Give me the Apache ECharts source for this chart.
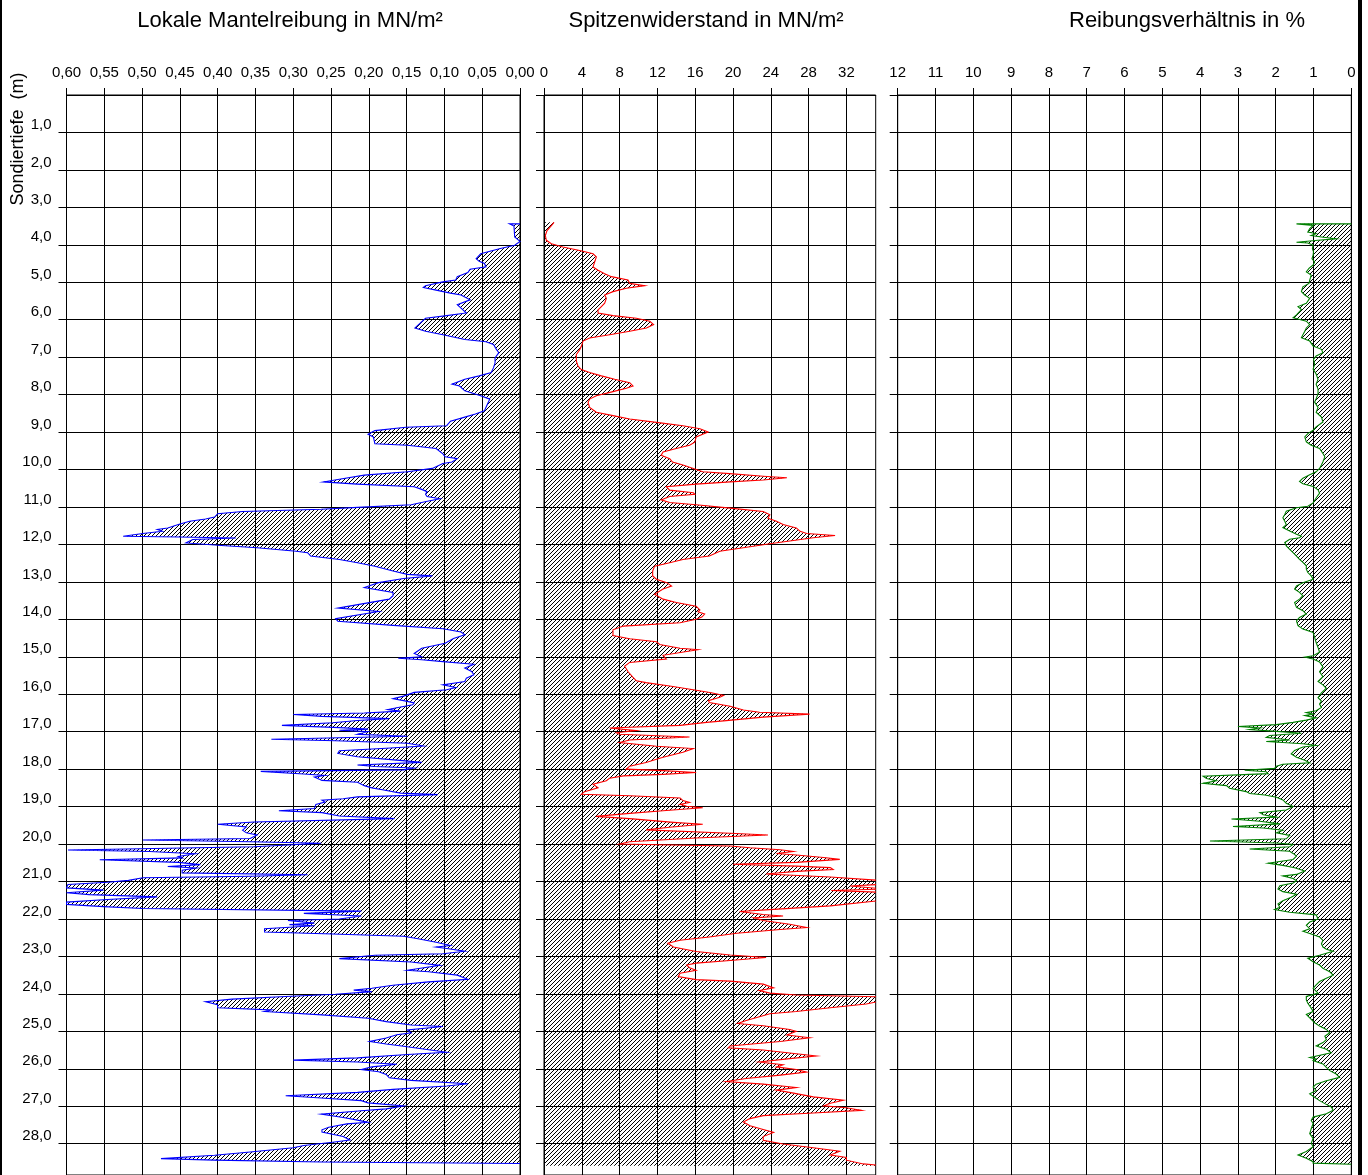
<!DOCTYPE html>
<html>
<head>
<meta charset="utf-8">
<script src="https://cdn.jsdelivr.net/npm/echarts@6/dist/echarts.min.js"></script>
<style>
html, body { margin: 0; padding: 0; background: #fff; }
#chart { width: 1368px; height: 1175px; }
</style>
</head>
<body>
<div id="chart"></div>
<script>
// [depth m, value] pairs
var fsProfile = [[3.44,0],[3.44,0.014],[3.50,0.008],[3.79,0.007],[3.91,0.000],[4.01,0.007],[4.10,0.026],[4.24,0.052],[4.37,0.058],[4.44,0.054],[4.50,0.047],[4.59,0.045],[4.65,0.066],[4.74,0.069],[4.85,0.083],[4.94,0.085],[4.99,0.102],[5.09,0.125],[5.14,0.128],[5.21,0.111],[5.29,0.092],[5.34,0.078],[5.47,0.066],[5.60,0.083],[5.69,0.078],[5.82,0.071],[5.89,0.097],[5.96,0.125],[6.09,0.132],[6.22,0.139],[6.31,0.125],[6.40,0.102],[6.53,0.073],[6.59,0.045],[6.66,0.035],[6.80,0.031],[6.88,0.028],[7.02,0.033],[7.15,0.033],[7.28,0.035],[7.41,0.038],[7.50,0.054],[7.59,0.073],[7.72,0.090],[7.77,0.080],[7.90,0.073],[8.03,0.052],[8.12,0.040],[8.25,0.043],[8.43,0.047],[8.52,0.059],[8.60,0.073],[8.71,0.092],[8.83,0.097],[8.87,0.151],[8.96,0.192],[9.06,0.201],[9.13,0.194],[9.31,0.192],[9.35,0.149],[9.44,0.111],[9.58,0.102],[9.66,0.099],[9.71,0.083],[9.80,0.090],[9.84,0.102],[9.97,0.116],[10.06,0.149],[10.15,0.206],[10.26,0.239],[10.33,0.260],[10.39,0.215],[10.46,0.140],[10.53,0.130],[10.59,0.123],[10.66,0.125],[10.72,0.123],[10.78,0.106],[10.84,0.121],[10.94,0.144],[11.01,0.215],[11.06,0.263],[11.12,0.367],[11.18,0.400],[11.27,0.404],[11.32,0.416],[11.38,0.437],[11.47,0.452],[11.56,0.466],[11.60,0.480],[11.65,0.473],[11.71,0.499],[11.78,0.525],[11.80,0.452],[11.83,0.376],[11.87,0.433],[11.96,0.442],[12.03,0.395],[12.09,0.348],[12.18,0.296],[12.22,0.281],[12.31,0.277],[12.40,0.239],[12.49,0.215],[12.58,0.192],[12.71,0.168],[12.80,0.149],[12.84,0.116],[12.91,0.154],[13.02,0.187],[13.15,0.206],[13.28,0.168],[13.37,0.168],[13.46,0.173],[13.70,0.241],[13.79,0.187],[13.98,0.244],[14.05,0.241],[14.16,0.168],[14.25,0.102],[14.34,0.078],[14.41,0.073],[14.51,0.088],[14.64,0.099],[14.77,0.130],[14.91,0.140],[15.00,0.130],[15.04,0.161],[15.08,0.130],[15.13,0.102],[15.20,0.061],[15.30,0.073],[15.39,0.064],[15.48,0.061],[15.57,0.071],[15.66,0.073],[15.75,0.102],[15.82,0.085],[15.88,0.097],[15.95,0.140],[16.05,0.154],[16.12,0.168],[16.17,0.154],[16.23,0.140],[16.28,0.142],[16.36,0.163],[16.41,0.175],[16.45,0.158],[16.50,0.206],[16.54,0.300],[16.59,0.262],[16.65,0.173],[16.70,0.215],[16.76,0.248],[16.83,0.315],[16.89,0.239],[16.93,0.201],[16.96,0.239],[17.00,0.201],[17.07,0.215],[17.12,0.149],[17.20,0.329],[17.24,0.244],[17.31,0.149],[17.38,0.128],[17.44,0.177],[17.51,0.239],[17.58,0.241],[17.67,0.215],[17.76,0.163],[17.82,0.130],[17.89,0.215],[17.93,0.192],[17.97,0.140],[18.02,0.154],[18.06,0.343],[18.13,0.286],[18.17,0.258],[18.21,0.272],[18.30,0.262],[18.35,0.215],[18.44,0.206],[18.50,0.196],[18.55,0.182],[18.64,0.158],[18.68,0.109],[18.74,0.215],[18.79,0.234],[18.83,0.262],[18.88,0.258],[18.94,0.270],[19.05,0.272],[19.11,0.319],[19.16,0.262],[19.25,0.239],[19.32,0.166],[19.41,0.352],[19.47,0.400],[19.54,0.362],[19.63,0.367],[19.70,0.362],[19.76,0.348],[19.85,0.357],[19.89,0.499],[19.94,0.357],[19.98,0.263],[20.07,0.352],[20.16,0.598],[20.20,0.490],[20.26,0.430],[20.33,0.452],[20.37,0.447],[20.42,0.556],[20.49,0.452],[20.55,0.423],[20.60,0.466],[20.64,0.428],[20.70,0.447],[20.77,0.447],[20.82,0.281],[20.86,0.357],[20.90,0.499],[20.97,0.518],[21.02,0.546],[21.08,0.598],[21.17,0.600],[21.23,0.551],[21.30,0.600],[21.35,0.570],[21.41,0.480],[21.48,0.546],[21.55,0.600],[21.61,0.600],[21.67,0.551],[21.72,0.499],[21.79,0.210],[21.85,0.286],[21.92,0.210],[22.00,0.239],[22.04,0.307],[22.11,0.272],[22.15,0.305],[22.18,0.272],[22.26,0.338],[22.35,0.338],[22.40,0.248],[22.46,0.154],[22.53,0.135],[22.62,0.111],[22.71,0.092],[22.75,0.111],[22.79,0.097],[22.86,0.073],[22.93,0.102],[22.97,0.192],[23.06,0.239],[23.15,0.144],[23.24,0.106],[23.37,0.149],[23.41,0.121],[23.50,0.083],[23.61,0.069],[23.68,0.121],[23.77,0.168],[23.85,0.196],[23.90,0.220],[23.94,0.196],[24.01,0.244],[24.07,0.310],[24.14,0.381],[24.21,0.416],[24.29,0.400],[24.37,0.400],[24.43,0.329],[24.47,0.338],[24.56,0.262],[24.65,0.201],[24.74,0.177],[24.83,0.144],[24.87,0.102],[24.96,0.149],[25.04,0.144],[25.09,0.163],[25.18,0.177],[25.27,0.199],[25.34,0.177],[25.40,0.154],[25.49,0.121],[25.56,0.097],[25.62,0.149],[25.71,0.215],[25.77,0.300],[25.82,0.215],[25.88,0.163],[25.95,0.196],[26.02,0.210],[26.08,0.187],[26.15,0.177],[26.24,0.173],[26.31,0.144],[26.40,0.069],[26.46,0.097],[26.55,0.168],[26.63,0.215],[26.72,0.310],[26.78,0.263],[26.85,0.210],[26.91,0.201],[26.99,0.154],[27.07,0.177],[27.12,0.210],[27.21,0.263],[27.30,0.234],[27.37,0.215],[27.43,0.201],[27.47,0.229],[27.56,0.253],[27.63,0.262],[27.69,0.262],[27.81,0.234],[27.90,0.225],[27.96,0.248],[28.05,0.286],[28.11,0.300],[28.22,0.357],[28.31,0.404],[28.40,0.475],[28.44,0.404],[28.49,0.263],[28.53,0.000]];

var qcProfile = [[3.40,1.06],[3.49,0.78],[3.62,0.32],[3.75,0.14],[3.88,0.25],[3.97,0.78],[4.06,2.0],[4.15,3.78],[4.24,5.19],[4.32,5.54],[4.46,5.36],[4.59,5.19],[4.68,5.72],[4.77,6.42],[4.85,7.13],[4.94,8.89],[5.03,9.07],[5.09,10.66],[5.16,8.71],[5.25,7.30],[5.34,6.42],[5.43,6.60],[5.56,6.42],[5.65,6.07],[5.74,5.72],[5.82,5.72],[5.89,7.30],[5.96,9.78],[6.04,11.19],[6.13,11.60],[6.22,10.84],[6.31,9.07],[6.40,6.95],[6.49,4.83],[6.57,4.13],[6.71,3.95],[6.80,3.78],[6.93,3.42],[7.10,3.42],[7.24,3.60],[7.33,3.95],[7.41,4.83],[7.50,6.07],[7.59,7.48],[7.68,9.07],[7.77,9.42],[7.83,8.71],[7.92,7.30],[8.03,5.54],[8.12,4.83],[8.21,4.66],[8.34,4.83],[8.47,5.54],[8.56,7.30],[8.65,9.07],[8.74,11.9],[8.83,14.7],[8.91,16.5],[9.00,17.37],[9.06,16.8],[9.13,16.1],[9.27,15.96],[9.35,15.4],[9.44,14.0],[9.53,12.6],[9.62,12.4],[9.71,13.3],[9.80,13.6],[9.88,14.7],[9.97,15.8],[10.06,16.8],[10.11,19.66],[10.18,23.2],[10.22,25.7],[10.28,23.2],[10.33,19.7],[10.39,16.1],[10.46,12.95],[10.55,13.3],[10.62,15.8],[10.66,15.96],[10.72,13.3],[10.81,12.4],[10.88,13.3],[10.94,16.1],[11.03,19.7],[11.12,23.2],[11.21,23.9],[11.30,23.7],[11.38,24.6],[11.47,25.3],[11.56,26.7],[11.65,27.1],[11.71,27.8],[11.76,30.8],[11.82,28.5],[11.91,26.0],[11.98,23.9],[12.09,21.1],[12.18,18.6],[12.31,17.5],[12.40,14.7],[12.49,13.3],[12.58,11.7],[12.71,11.5],[12.84,11.5],[12.93,11.9],[13.02,13.0],[13.11,13.5],[13.19,12.6],[13.33,11.7],[13.46,12.6],[13.55,14.0],[13.65,16.1],[13.75,16.5],[13.80,16.3],[13.86,17.0],[13.94,16.7],[14.00,16.1],[14.09,14.4],[14.18,8.4],[14.28,7.3],[14.43,7.3],[14.52,9.07],[14.60,11.9],[14.67,12.25],[14.77,14.4],[14.81,16.3],[14.86,15.1],[14.96,12.6],[15.06,12.95],[15.15,9.07],[15.25,8.54],[15.40,8.9],[15.54,9.4],[15.64,9.78],[15.69,10.8],[15.78,13.3],[15.88,15.8],[15.96,17.7],[16.03,19.0],[16.08,18.6],[16.17,17.4],[16.22,17.5],[16.32,19.7],[16.42,21.1],[16.48,22.8],[16.53,28.1],[16.61,23.2],[16.71,19.0],[16.75,17.2],[16.83,14.4],[16.90,6.95],[16.97,9.8],[17.03,7.66],[17.07,8.0],[17.14,15.4],[17.22,9.07],[17.29,8.0],[17.39,11.9],[17.45,15.8],[17.55,14.7],[17.68,12.6],[17.82,10.8],[17.92,9.07],[18.00,8.7],[18.04,12.6],[18.09,16.1],[18.14,12.6],[18.18,8.4],[18.24,6.95],[18.31,6.6],[18.40,5.19],[18.50,5.72],[18.60,4.3],[18.67,3.95],[18.71,9.07],[18.77,14.4],[18.84,14.7],[18.89,15.4],[18.94,14.4],[18.99,15.1],[19.03,16.8],[19.11,12.6],[19.18,9.07],[19.26,5.5],[19.32,9.07],[19.42,13.7],[19.47,16.8],[19.55,13.3],[19.62,10.8],[19.71,19.7],[19.76,23.7],[19.84,16.1],[19.94,9.07],[20.00,8.0],[20.05,19.7],[20.10,21.8],[20.15,25.0],[20.20,26.4],[20.25,24.6],[20.29,26.7],[20.36,29.6],[20.41,31.3],[20.49,26.7],[20.54,20.0],[20.59,26.7],[20.63,30.3],[20.68,30.6],[20.73,26.7],[20.80,23.5],[20.88,30.3],[20.97,35.5],[21.07,36],[21.12,32.4],[21.20,36],[21.24,30.4],[21.29,36],[21.41,36],[21.51,35.5],[21.65,30.3],[21.75,23.9],[21.80,20.7],[21.88,23.2],[21.92,25.3],[21.97,22.2],[22.04,23.2],[22.14,26.0],[22.23,27.8],[22.28,25.0],[22.38,20.4],[22.48,17.5],[22.57,14.4],[22.65,13.1],[22.75,13.7],[22.87,16.1],[22.96,19.7],[23.03,23.5],[23.11,19.7],[23.18,16.1],[23.23,15.1],[23.30,15.4],[23.37,16.1],[23.45,14.4],[23.54,14.2],[23.62,16.1],[23.66,19.7],[23.74,23.2],[23.84,24.3],[23.91,22.8],[23.98,23.9],[24.03,26.7],[24.08,36],[24.17,36],[24.27,34.1],[24.37,30.3],[24.47,26.7],[24.53,23.9],[24.61,22.8],[24.71,21.4],[24.79,20.5],[24.85,23.2],[24.95,26.0],[25.00,26.7],[25.10,25.7],[25.17,28.1],[25.27,25.0],[25.39,19.7],[25.44,19.5],[25.50,23.2],[25.60,26.7],[25.66,28.8],[25.73,26.0],[25.82,22.8],[25.89,25.3],[25.95,24.6],[26.02,26.7],[26.09,27.8],[26.17,25.0],[26.26,21.4],[26.34,19.3],[26.41,23.2],[26.50,26.7],[26.57,24.6],[26.65,26.4],[26.75,28.5],[26.84,31.7],[26.92,30.3],[26.99,29.6],[27.04,32.0],[27.11,33.6],[27.18,28.5],[27.25,23.2],[27.33,21.8],[27.42,21.1],[27.52,21.8],[27.62,23.2],[27.70,24.3],[27.81,23.2],[27.91,23.2],[28.01,25.3],[28.11,28.5],[28.20,31.3],[28.30,30.3],[28.37,32.0],[28.44,32.0],[28.54,33.8],[28.59,36]];

var rfProfile = [[3.44,0],[3.44,1.45],[3.48,1.01],[3.57,1.10],[3.66,1.15],[3.70,0.93],[3.75,1.06],[3.79,0.79],[3.84,0.40],[3.88,0.88],[3.93,1.45],[3.95,1.15],[4.01,1.01],[4.10,1.03],[4.19,1.00],[4.28,1.01],[4.37,1.04],[4.46,0.97],[4.54,1.01],[4.63,1.12],[4.72,1.19],[4.81,1.06],[4.94,1.10],[5.03,1.12],[5.12,1.28],[5.25,1.32],[5.34,1.23],[5.43,1.10],[5.56,1.19],[5.65,1.41],[5.73,1.32],[5.87,1.45],[5.95,1.54],[6.04,1.19],[6.13,1.10],[6.22,1.19],[6.31,1.23],[6.40,1.28],[6.48,1.32],[6.57,1.10],[6.70,1.01],[6.79,0.79],[6.88,0.75],[6.97,0.93],[7.06,1.00],[7.19,0.97],[7.32,1.01],[7.45,0.93],[7.59,0.88],[7.72,0.93],[7.85,0.88],[7.98,0.88],[8.11,0.93],[8.20,0.97],[8.34,0.88],[8.47,0.93],[8.60,0.79],[8.73,0.75],[8.86,0.93],[8.95,1.01],[9.04,1.15],[9.13,1.23],[9.26,1.19],[9.35,1.06],[9.44,0.84],[9.57,0.75],[9.66,0.70],[9.79,0.75],[9.88,0.79],[9.97,0.84],[10.06,0.93],[10.14,1.10],[10.23,1.28],[10.32,1.37],[10.38,1.28],[10.45,1.01],[10.54,0.88],[10.63,0.84],[10.76,0.93],[10.89,1.01],[10.98,1.15],[11.02,1.45],[11.11,1.72],[11.20,1.76],[11.29,1.81],[11.38,1.76],[11.47,1.72],[11.55,1.81],[11.64,1.63],[11.73,1.45],[11.78,1.32],[11.82,1.37],[11.86,1.63],[11.95,1.76],[12.04,1.72],[12.13,1.63],[12.22,1.54],[12.31,1.45],[12.40,1.37],[12.48,1.28],[12.57,1.19],[12.66,1.19],[12.75,1.15],[12.84,1.06],[12.93,1.01],[13.02,1.28],[13.11,1.45],[13.19,1.50],[13.28,1.37],[13.37,1.28],[13.46,1.37],[13.55,1.50],[13.68,1.45],[13.77,1.28],[13.86,1.19],[13.95,1.37],[14.04,1.45],[14.17,1.41],[14.26,1.28],[14.35,1.01],[14.48,0.97],[14.62,0.93],[14.75,0.88],[14.88,0.84],[14.97,1.01],[15.01,1.23],[15.06,1.01],[15.14,0.84],[15.27,0.75],[15.40,0.84],[15.53,0.75],[15.66,0.88],[15.75,0.75],[15.84,0.66],[15.96,0.79],[16.09,0.88],[16.18,0.79],[16.26,0.84],[16.35,0.79],[16.44,0.93],[16.49,1.19],[16.53,1.01],[16.57,1.23],[16.63,0.93],[16.69,1.19],[16.75,1.54],[16.81,1.98],[16.86,3.00],[16.90,2.42],[16.94,2.69],[16.99,1.98],[17.04,1.32],[17.10,2.16],[17.15,2.25],[17.22,1.63],[17.26,2.25],[17.32,1.28],[17.37,0.93],[17.41,1.28],[17.50,1.50],[17.59,1.59],[17.68,1.45],[17.76,1.23],[17.83,1.10],[17.87,1.81],[17.92,1.98],[17.98,2.03],[18.03,2.82],[18.07,2.25],[18.12,2.20],[18.19,3.92],[18.25,3.83],[18.31,3.57],[18.38,3.92],[18.44,3.30],[18.51,3.22],[18.60,2.78],[18.65,2.69],[18.69,2.29],[18.75,1.98],[18.82,1.81],[18.91,1.72],[19.00,1.54],[19.09,1.72],[19.16,2.42],[19.22,2.33],[19.28,1.98],[19.33,3.17],[19.39,2.42],[19.46,1.89],[19.53,3.13],[19.57,2.33],[19.63,1.81],[19.70,1.98],[19.77,1.63],[19.86,1.72],[19.92,3.74],[19.97,1.98],[20.01,1.54],[20.07,1.63],[20.13,2.69],[20.19,1.63],[20.25,1.54],[20.32,1.45],[20.41,1.54],[20.51,2.20],[20.57,1.81],[20.63,1.50],[20.72,1.23],[20.81,1.45],[20.85,1.81],[20.92,1.54],[20.98,1.45],[21.04,1.54],[21.11,1.89],[21.20,1.94],[21.27,1.81],[21.34,1.45],[21.42,1.59],[21.51,1.81],[21.60,1.94],[21.69,1.89],[21.75,2.03],[21.82,1.63],[21.89,0.93],[22.00,0.88],[22.08,1.10],[22.17,1.19],[22.26,1.10],[22.33,1.28],[22.39,1.10],[22.48,0.84],[22.57,0.75],[22.66,0.79],[22.75,0.75],[22.81,0.66],[22.86,0.48],[22.97,0.84],[23.05,1.15],[23.14,1.01],[23.23,0.84],[23.32,0.75],[23.41,0.57],[23.50,0.48],[23.58,0.66],[23.67,0.84],[23.76,0.93],[23.85,1.01],[23.98,0.88],[24.07,1.19],[24.16,1.19],[24.25,1.15],[24.38,1.06],[24.47,1.01],[24.55,1.19],[24.64,1.10],[24.77,0.97],[24.86,0.84],[24.95,0.66],[25.04,0.57],[25.13,0.70],[25.22,0.66],[25.30,0.75],[25.39,0.93],[25.48,0.66],[25.57,0.53],[25.70,1.10],[25.74,0.93],[25.78,1.01],[25.87,0.75],[25.96,0.66],[26.05,0.57],[26.14,0.40],[26.23,0.31],[26.32,0.66],[26.41,0.93],[26.49,1.01],[26.58,0.93],[26.67,1.10],[26.76,0.97],[26.85,0.84],[26.93,0.70],[27.02,0.53],[27.11,0.48],[27.20,0.66],[27.29,1.01],[27.38,1.06],[27.46,1.01],[27.60,1.06],[27.73,1.10],[27.86,1.01],[27.99,1.06],[28.08,1.01],[28.21,1.19],[28.30,1.41],[28.39,1.19],[28.48,1.01],[28.52,1.01],[28.55,0]];

var panelTitles = ['Lokale Mantelreibung in MN/m²', 'Spitzenwiderstand in MN/m²', 'Reibungsverhältnis in %'];
var depthName = 'Sondiertiefe  (m)';
var fsRange = [0, 0.6, 0.05];
var qcRange = [0, 35.1, 4];
var qcTicks = [0, 4, 8, 12, 16, 20, 24, 28, 32];
var rfRange = [0, 12, 1];

var font = '"Liberation Sans", Arial, Helvetica, sans-serif';
var pxPerM = 37.8;
var depthMax = 1090 / pxPerM;

var chart = echarts.init(document.getElementById('chart'));

// diagonal hatch used for all three fills
var hatchCanvas = document.createElement('canvas');
hatchCanvas.width = 4;
hatchCanvas.height = 4;
var hctx = hatchCanvas.getContext('2d');
hctx.fillStyle = '#000';
for (var i = 0; i < 4; i++) {
	hctx.fillRect(i, 3 - i, 1, 1);
}
var hatch = { image: hatchCanvas, repeat: 'repeat' };

function comma(v, d) {
	return v.toFixed(d).replace('.', ',');
}

function profile(points, color) {
	return function (params, api) {
		if (params.dataIndex !== 0) return null;
		var line = points.map(function (p) { return api.coord([p[1], p[0]]); });
		var first = points[0], last = points[points.length - 1];
		var poly = [api.coord([0, first[0]])].concat(line, [api.coord([0, last[0]])]);
		return {
			type: 'group',
			children: [
				{ type: 'polygon', shape: { points: poly }, style: { fill: hatch, stroke: null } },
				{ type: 'polyline', shape: { points: line }, style: { fill: null, stroke: color, lineWidth: 1.1 } }
			]
		};
	};
}

function xAx(idx, range, inverse, fmt, ticks) {
	var tick = { show: true, length: 7, lineStyle: { color: '#000' } };
	var lbl = { color: '#000', fontSize: 15, fontFamily: font, margin: 15, formatter: fmt };
	if (ticks) {
		tick.customValues = ticks;
		lbl.customValues = ticks;
	}
	return {
		gridIndex: idx,
		type: 'value',
		position: 'top',
		min: range[0],
		max: range[1],
		interval: range[2],
		inverse: inverse,
		axisLine: { show: true, onZero: false, lineStyle: { color: '#000', width: 1 } },
		axisTick: tick,
		axisLabel: lbl,
		splitLine: { show: true, lineStyle: { color: '#000', width: 1 } }
	};
}

function yAx(idx, labels) {
	return {
		gridIndex: idx,
		type: 'value',
		inverse: true,
		min: 0,
		max: depthMax,
		interval: 1,
		axisLine: { show: true, onZero: false, lineStyle: { color: '#000', width: 1 } },
		axisTick: { show: true, length: 8, lineStyle: { color: '#000' } },
		axisLabel: {
			show: labels, showMinLabel: false, showMaxLabel: false,
			color: '#000', fontSize: 15, fontFamily: font, margin: 15, verticalAlign: 'bottom',
			formatter: function (v) { return comma(v, 1); }
		},
		splitLine: { show: true, lineStyle: { color: '#000', width: 1 } }
	};
}

function gridAt(left, width) {
	return { left: left, top: 95, width: width, height: 1090, show: true, borderColor: '#000', borderWidth: 1, backgroundColor: 'transparent' };
}

function series(idx, points, color) {
	return {
		type: 'custom',
		xAxisIndex: idx,
		yAxisIndex: idx,
		clip: true,
		silent: true,
		data: points.map(function (p) { return [p[1], p[0]]; }),
		renderItem: profile(points, color)
	};
}

function label(text, x, y, size, rot) {
	return {
		type: 'text', x: x, y: y, rotation: rot || 0,
		style: { text: text, fill: '#000', font: size + 'px ' + font, textAlign: 'center', textVerticalAlign: 'middle' }
	};
}

var option = {
	animation: false,
	backgroundColor: '#fff',
	grid: [gridAt(66.5, 453.5), gridAt(544, 331.7), gridAt(897.7, 453.6)],
	xAxis: [
		xAx(0, fsRange, true, function (v) { return comma(v, 2); }),
		xAx(1, qcRange, false, function (v) { return String(v); }, qcTicks),
		xAx(2, rfRange, true, function (v) { return String(v); })
	],
	yAxis: [yAx(0, true), yAx(1, false), yAx(2, false)],
	series: [
		series(0, fsProfile, '#0000ff'),
		series(1, qcProfile, '#ff0000'),
		series(2, rfProfile, '#008000')
	],
	graphic: [
		label(panelTitles[0], 290, 21, 22),
		label(panelTitles[1], 706, 21, 22),
		label(panelTitles[2], 1187, 21, 22),
		label(depthName, 18, 139, 18, Math.PI / 2),
		{ type: 'rect', shape: { x: 0, y: 0, width: 2, height: 1175 }, style: { fill: '#000' } },
		{ type: 'rect', shape: { x: 1358, y: 0, width: 4, height: 1175 }, style: { fill: '#000' } }
	]
};

chart.setOption(option);
</script>
</body>
</html>
